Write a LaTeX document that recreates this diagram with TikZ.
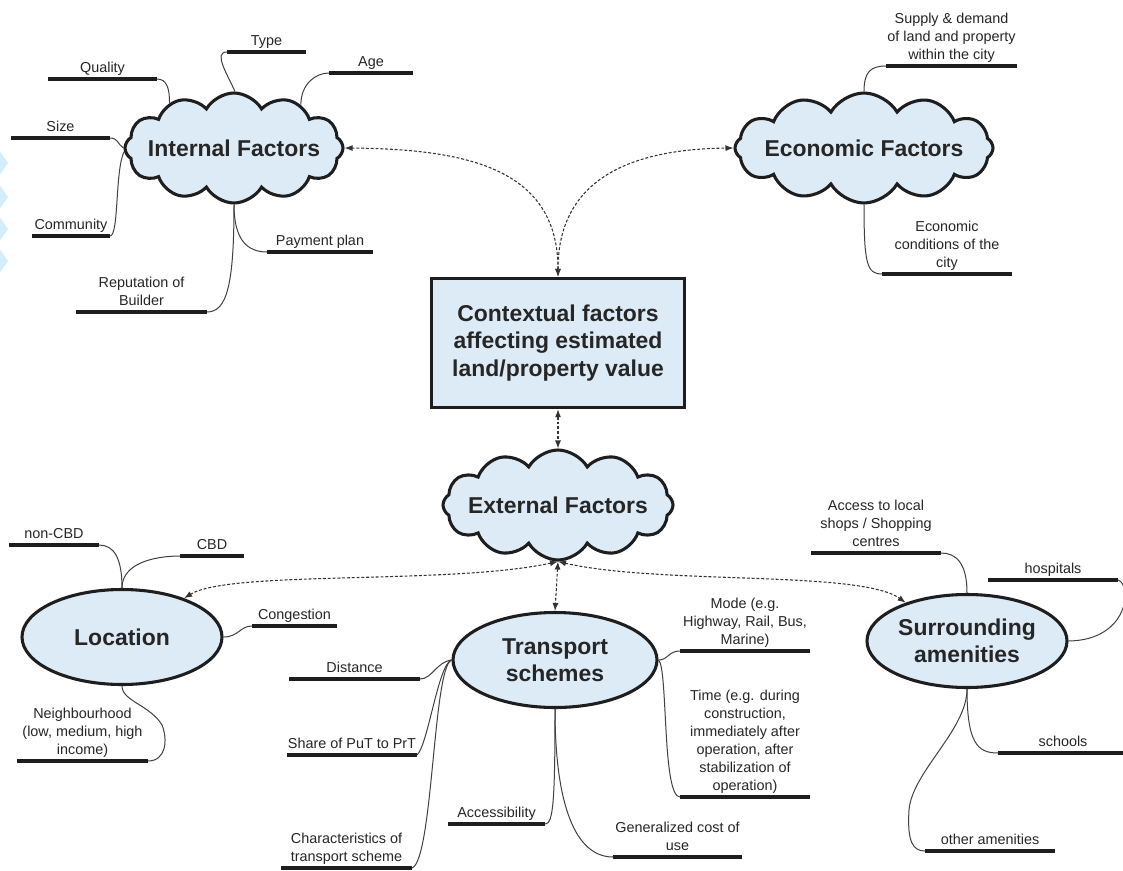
\documentclass[tikz,border=0pt]{standalone}
\usepackage{fontspec}
\setmainfont{Liberation Sans}
\usetikzlibrary{shapes.symbols,shapes.geometric,arrows.meta}
\definecolor{cfill}{RGB}{221,235,247}
\definecolor{ink}{RGB}{30,30,30}
\definecolor{wm}{RGB}{212,237,252}
\newcommand{\lab}[5]{%
  \draw[bar] (#2,#4) coordinate (#1-l) -- (#3,#4) coordinate (#1-r);
  \node[lbl, anchor=south] (#1) at ({(#2+#3)/2},{#4-6}) {#5};
}
\tikzset{
  bar/.style={line width=3.6pt, draw=ink},
  lbl/.style={font=\fontsize{10.8}{13.5}\selectfont, text=black!85, align=center, inner sep=0pt, text depth=0pt},
  conn/.style={draw=black!75, line width=0.75pt},
  darrow/.style={draw=black!80, line width=0.8pt, dash pattern=on 2.2pt off 1.4pt,
     {Latex[length=6pt,width=4.5pt]}-{Latex[length=6pt,width=4.5pt]}},
  title/.style={font=\fontsize{17.2}{20.6}\selectfont\bfseries, text=black!85, align=center},
  cloudnode/.style={cloud, cloud puffs=12, cloud puff arc=120, cloud ignores aspect, draw=ink,
     line width=2.3pt, fill=cfill, inner sep=0pt},
  ellnode/.style={ellipse, draw=ink, line width=2.3pt, fill=cfill, inner sep=0pt, title},
  boxnode/.style={rectangle, draw=ink, line width=2.6pt, fill=cfill, inner sep=0pt, title}
}
\begin{document}
\begin{tikzpicture}[x=0.75pt,y=-0.75pt]
\useasboundingbox (0,0) rectangle (1123,870);
\fill[white] (0,0) rectangle (1123,870);
% faint watermark chevrons at the left edge
\foreach \yy in {163,197,229,261}
  \draw[wm, line width=5pt] (-6,\yy-14) -- (4,\yy) -- (-6,\yy+14);

% main shapes
\node[cloudnode, minimum width={218*0.75pt}, minimum height={110*0.75pt},
      label={[title,name=intfT]center:Internal Factors}] (intf) at (234,148) {};
\node[cloudnode, minimum width={258*0.75pt}, minimum height={110*0.75pt},
      label={[title,name=ecofT]center:Economic Factors}] (ecof) at (864,148) {};
\node[boxnode, minimum width={253*0.75pt}, minimum height={129*0.75pt}] (box) at (558,343)
      {Contextual factors\\affecting estimated\\land/property value};
\node[cloudnode, minimum width={230*0.75pt}, minimum height={110*0.75pt},
      label={[title,name=extfT]center:External Factors}] (extf) at (558,505) {};
\node[ellnode, minimum width={200*0.75pt}, minimum height={95*0.75pt}] (loc) at (122,637) {Location};
\node[ellnode, minimum width={204*0.75pt}, minimum height={95*0.75pt}] (trans) at (555,660) {Transport\\schemes};
\node[ellnode, minimum width={200*0.75pt}, minimum height={93*0.75pt}] (surr) at (967,641) {Surrounding\\amenities};

% labels with bars
\lab{type}{227}{306}{52}{Type}
\lab{quality}{48}{157}{79}{Quality}
\lab{age}{329}{413}{73}{Age}
\lab{size}{11}{110}{138}{Size}
\lab{community}{32}{110}{236}{Community}
\lab{payment}{267}{373}{252}{Payment plan}
\lab{reputation}{76}{207}{312}{Reputation of\\Builder}
\lab{supply}{886}{1017}{66}{Supply \& demand\\of land and property\\within the city}
\lab{econ}{882}{1012}{274}{Economic\\conditions of the\\city}
\lab{noncbd}{9}{99}{545}{non-CBD}
\lab{cbd}{180}{244}{556}{CBD}
\lab{cong}{252}{337}{626}{Congestion}
\lab{neigh}{17}{148}{761}{Neighbourhood\\(low, medium, high\\income)}
\lab{dist}{289}{420}{679}{Distance}
\lab{share}{287}{417}{755}{Share of PuT to PrT}
\lab{charac}{281}{412}{868}{Characteristics of\\transport scheme}
\lab{access}{448}{545}{824}{Accessibility}
\lab{gen}{613}{742}{857}{Generalized cost of\\use}
\lab{mode}{680}{810}{651}{Mode (e.g.\\Highway, Rail, Bus,\\Marine)}
\lab{time}{680}{810}{797}{Time (e.g. during\\construction,\\immediately after\\operation, after\\stabilization of\\operation)}
\lab{accshop}{811}{941}{553}{Access to local\\shops / Shopping\\centres}
\lab{hosp}{988}{1118}{580}{hospitals}
\lab{schools}{998}{1128}{753}{schools}
\lab{other}{925}{1055}{851}{other amenities}

% connectors: internal factors
\draw[conn] (intf.89) .. controls +(-8,-18) and +(-14,0) .. (type-l);
\draw[conn] (intf.145) .. controls +(0,-14) and +(10,0) .. (quality-r);
\draw[conn] (intf.33) .. controls +(0,-20) and +(-14,0) .. (age-l);
\draw[conn] (intf.180) .. controls +(-6,-4) and +(8,0) .. (size-r);
\draw[conn] (intf.182) .. controls (115,170) and (119,236) .. (community-r);
\draw[conn] (intf.270) .. controls +(0,35) and +(-20,0) .. (payment-l);
\draw[conn] (intf.270) .. controls +(0,80) and +(20,0) .. (reputation-r);
% economic factors
\draw[conn] (ecof.90) .. controls +(0,-20) and +(-15,0) .. (supply-l);
\draw[conn] (ecof.270) .. controls +(0,60) and +(-15,0) .. (econ-l);
% location
\draw[conn] (loc.north) .. controls +(0,-30) and +(15,0) .. (noncbd-r);
\draw[conn] (loc.north) .. controls +(0,-25) and +(-25,0) .. (cbd-l);
\draw[conn] (loc.east) .. controls +(15,0) and +(-12,0) .. (cong-l);
\draw[conn] (loc.south) .. controls +(0,15) and (150,705) .. (162,725)
            .. controls (168,740) and (166,761) .. (neigh-r);
% transport
\draw[conn] (trans.west) .. controls +(-15,2) and +(12,0) .. (dist-r);
\draw[conn] (trans.west) .. controls (438,665) and (428,745) .. (share-r);
\draw[conn] (trans.west) .. controls (433,668) and (433,860) .. (charac-r);
\draw[conn] (trans.south) .. controls +(0,95) and +(8,0) .. (access-r);
\draw[conn] (trans.south) .. controls +(0,95) and +(-38,0) .. (gen-l);
\draw[conn] (trans.east) .. controls +(10,0) and +(-12,0) .. (mode-l);
\draw[conn] (trans.east) .. controls (668,668) and (662,797) .. (time-l);
% surrounding
\draw[conn] (surr.north) .. controls +(0,-30) and +(15,0) .. (accshop-r);
\draw[conn] (hosp-r) .. controls (1132,584) and (1130,640) .. (surr.east);
\draw[conn] (surr.south) .. controls +(0,55) and +(-20,0) .. (schools-l);
\draw[conn] (surr.south) .. controls (967,730) and (912,772) .. (909,810)
            .. controls (907,842) and (913,851) .. (other-l);

% dashed two-way arrows
\draw[darrow] (box.north) .. controls (558,170) and (470,149) .. (intf.east);
\draw[darrow] (box.north) .. controls (558,170) and (646,149) .. (ecof.west);
\draw[darrow] (box.south) -- (extf.north);
\draw[darrow] (extf.south) .. controls (450,585) and (230,570) .. (loc.32);
\draw[darrow] (extf.south) .. controls (660,585) and (860,570) .. (surr.148);
\draw[darrow] (extf.south) -- (trans.north);
\end{tikzpicture}
\end{document}
